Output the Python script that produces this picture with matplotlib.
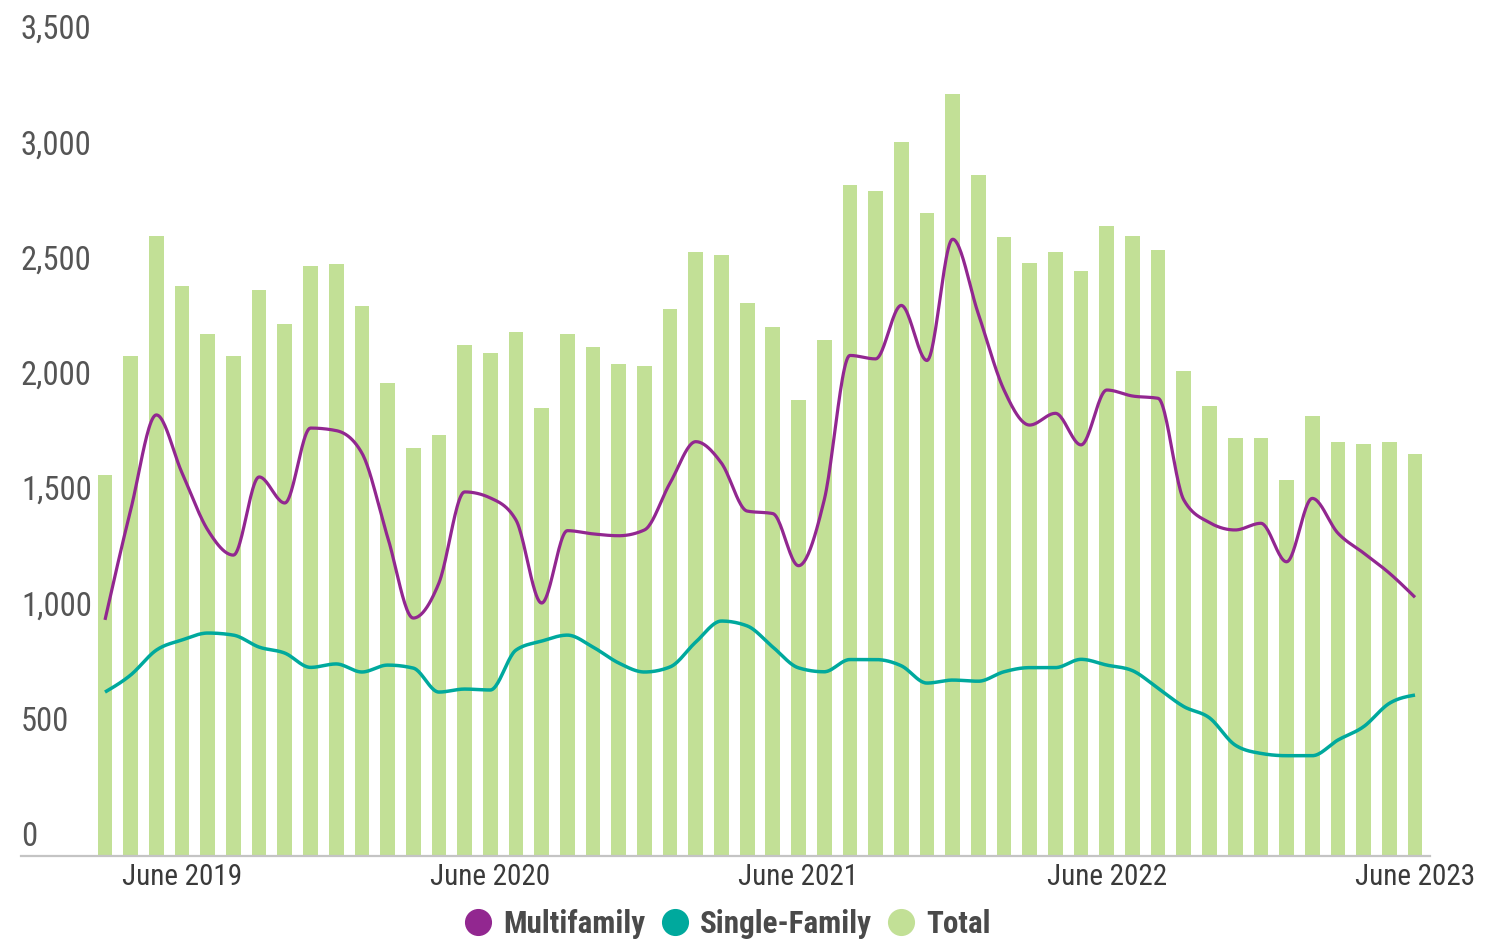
import numpy as np
import matplotlib
matplotlib.use("Agg")
import matplotlib.pyplot as plt
from matplotlib import font_manager
from matplotlib.transforms import ScaledTranslation
from matplotlib.lines import Line2D
import pandas as pd

# ---------------- data ----------------
months = pd.period_range("2019-03", "2023-06", freq="M").astype(str).tolist()

total = [1652, 2169, 2690, 2473, 2265, 2169, 2453, 2307, 2557, 2566,
         2384, 2050, 1771, 1826, 2216, 2182, 2271, 1944, 2265, 2209,
         2134, 2126, 2371, 2621, 2607, 2397, 2294, 1979, 2238, 2912,
         2886, 3095, 2789, 3304, 2955, 2683, 2572, 2621, 2537, 2732,
         2690, 2627, 2105, 1952, 1812, 1812, 1632, 1910, 1797, 1786,
         1797, 1742]

multifamily = [1024, 1501, 1913, 1661, 1414, 1305, 1644, 1531, 1856, 1845,
               1748, 1384, 1032, 1184, 1579, 1553, 1457, 1097, 1411, 1397,
               1389, 1414, 1618, 1797, 1704, 1496, 1485, 1259, 1544, 2171,
               2156, 2388, 2149, 2675, 2351, 2021, 1869, 1920, 1783, 2021,
               1995, 1985, 1544, 1446, 1414, 1443, 1276, 1551, 1400, 1314,
               1227, 1122]

single_family = [711, 785, 893, 937, 967, 958, 906, 880, 818, 833,
                 798, 828, 815, 711, 724, 720, 893, 932, 958, 906,
                 837, 798, 820, 928, 1019, 998, 906, 816, 799, 852,
                 852, 825, 750, 763, 758, 799, 817, 817, 853, 828,
                 804, 727, 648, 599, 481, 445, 435, 435, 503, 561,
                 662, 698]

xtick_months = ["2019-06", "2020-06", "2021-06", "2022-06", "2023-06"]
xtick_labels = ["June 2019", "June 2020", "June 2021", "June 2022", "June 2023"]
ytick_values = [0, 500, 1000, 1500, 2000, 2500, 3000, 3500]
series_names = ["Multifamily", "Single-Family", "Total"]

# ---------------- style ----------------
C_MULTI = "#922790"
C_SINGLE = "#00A99D"
C_TOTAL = "#C2E096"

avail = {f.name for f in font_manager.fontManager.ttflist}
family = "DejaVu Sans"
for cand in ["Roboto Condensed", "Liberation Sans Narrow", "Roboto"]:
    if cand in avail:
        family = cand
        break
plt.rcParams["font.family"] = [family, "DejaVu Sans"]


def monotone_curve(xs, ys, n=24):
    """Monotone cubic (d3 curveMonotoneX style) through the points."""
    x = np.asarray(xs, float)
    y = np.asarray(ys, float)
    h = np.diff(x)
    s = np.diff(y) / h
    m = np.zeros_like(y)
    for i in range(1, len(y) - 1):
        p = (s[i - 1] * h[i] + s[i] * h[i - 1]) / (h[i - 1] + h[i])
        m[i] = (np.sign(s[i - 1]) + np.sign(s[i])) * min(abs(s[i - 1]), abs(s[i]), 0.5 * abs(p))
    m[0] = (3 * s[0] - m[1]) / 2
    m[-1] = (3 * s[-1] - m[-2]) / 2
    X, Y = [], []
    for i in range(len(x) - 1):
        t = np.linspace(0, 1, n, endpoint=False)
        h00 = 2 * t**3 - 3 * t**2 + 1
        h10 = t**3 - 2 * t**2 + t
        h01 = -2 * t**3 + 3 * t**2
        h11 = t**3 - t**2
        X.append(x[i] + t * h[i])
        Y.append(h00 * y[i] + h10 * h[i] * m[i] + h01 * y[i + 1] + h11 * h[i] * m[i + 1])
    X.append([x[-1]])
    Y.append([y[-1]])
    return np.concatenate(X), np.concatenate(Y)


W, H = 1486, 944
fig = plt.figure(figsize=(W / 100, H / 100), dpi=100)
left_px, right_px, bottom_px, top_px = 21, 1430, 856, 40
ax = fig.add_axes([left_px / W, 1 - bottom_px / H,
                   (right_px - left_px) / W, (bottom_px - top_px) / H])

x = np.arange(len(months))
ax.bar(x, total, width=0.572, color=C_TOTAL, zorder=1)

mx, my = monotone_curve(x, multifamily)
sx, sy = monotone_curve(x, single_family)
ax.plot(mx, my, color=C_MULTI, lw=2.3, zorder=3, solid_capstyle="butt")
ax.plot(sx, sy, color=C_SINGLE, lw=2.5, zorder=3, solid_capstyle="butt")

spacing = (1415 - 105) / 51.0
ax.set_xlim(-(105 - left_px) / spacing, 51 + (right_px - 1415) / spacing)
ax.set_ylim(0, (bottom_px - top_px) * 3500 / 807.0)

for sp in ["left", "right", "top"]:
    ax.spines[sp].set_visible(False)
ax.spines["bottom"].set_color("#c4c4c4")
ax.spines["bottom"].set_linewidth(1.6)

ax.set_xticks([months.index(m) for m in xtick_months])
ax.set_xticklabels(xtick_labels)
ax.tick_params(axis="x", length=0, pad=5, labelsize=21, labelcolor="#3a3a3a")

ax.set_yticks(ytick_values)
ax.set_yticklabels([f"{v:,}" for v in ytick_values])
ax.tick_params(axis="y", length=0, pad=0, labelsize=23.5, labelcolor="#555555")
offset = ScaledTranslation(0, 0.225, fig.dpi_scale_trans)
for lab in ax.get_yticklabels():
    lab.set_horizontalalignment("left")
    lab.set_transform(lab.get_transform() + offset)

handles = [Line2D([], [], marker="o", linestyle="none", markersize=18.5,
                  markerfacecolor=c, markeredgecolor=c)
           for c in (C_MULTI, C_SINGLE, C_TOTAL)]
leg = fig.legend(handles, series_names, ncol=3, frameon=False, loc="center",
                 bbox_to_anchor=(728 / W, 1 - 924 / H),
                 prop={"size": 22.4, "weight": "bold"},
                 handlelength=0.85, handletextpad=0.4, columnspacing=0.5,
                 borderaxespad=0, borderpad=0)
for t in leg.get_texts():
    t.set_color("#4a4a4a")

fig.savefig("out.png", dpi=100)
